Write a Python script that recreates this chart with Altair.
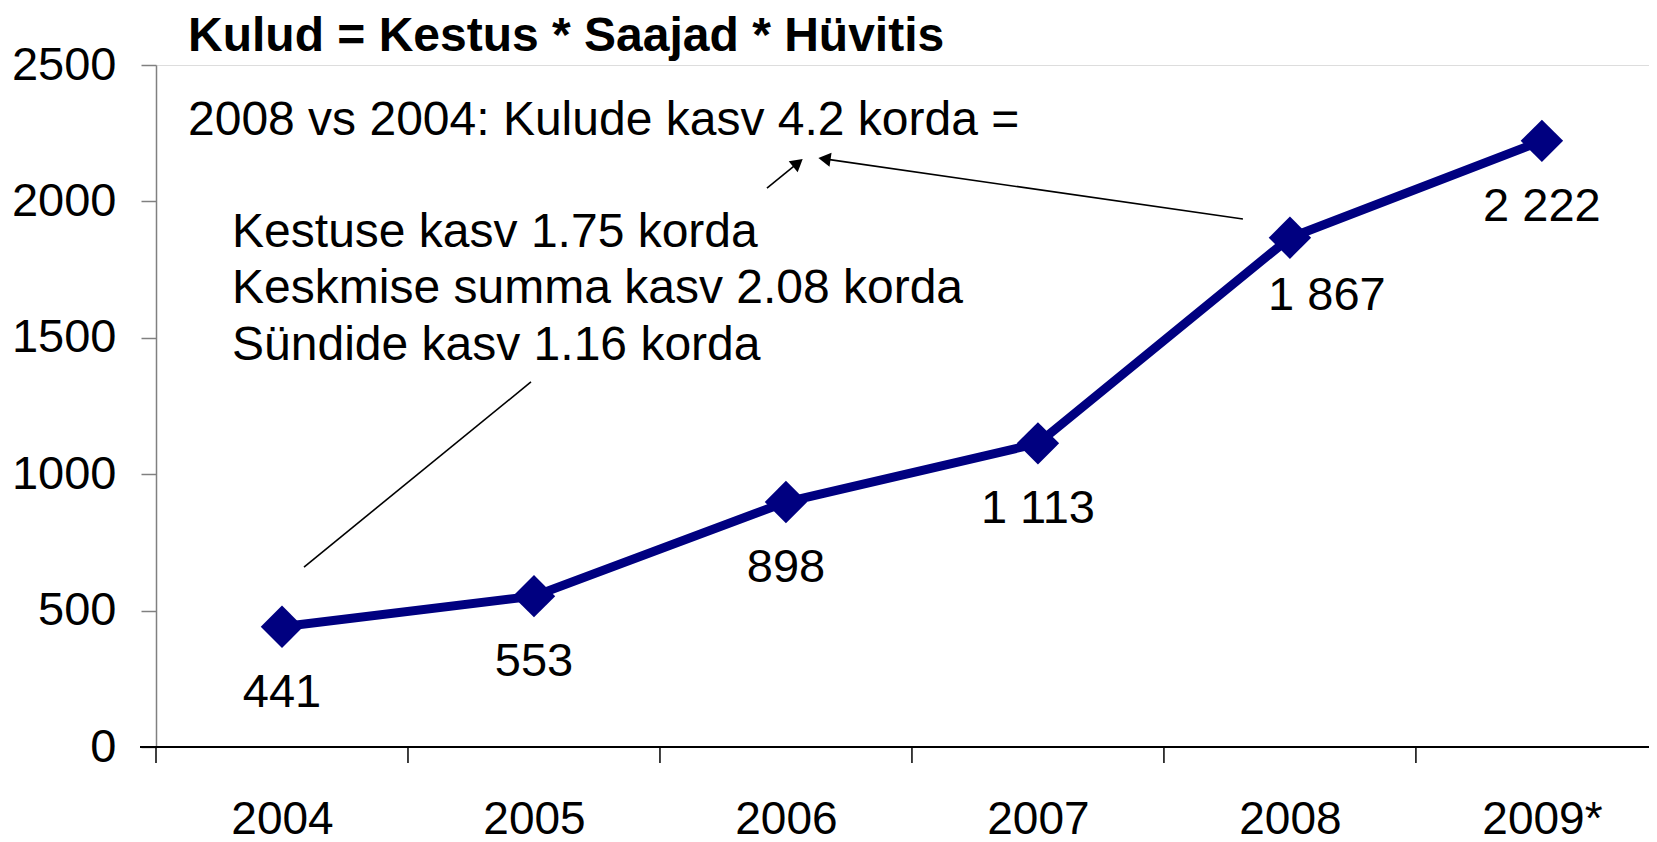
import json
import altair as alt
import pandas as pd

# ---- data ----
years = ["2004", "2005", "2006", "2007", "2008", "2009*"]
values = [441, 553, 898, 1113, 1867, 2222]
value_labels = ["441", "553", "898", "1 113", "1 867", "2 222"]
y_ticks = [0, 500, 1000, 1500, 2000, 2500]

title_text = ["Kulud = Kestus * Saajad * Hüvitis"]
ann_texts = [
    "2008 vs 2004: Kulude kasv 4.2 korda =",
    "Kestuse kasv 1.75 korda",
    "Keskmise summa kasv 2.08 korda",
    "Sündide kasv 1.16 korda",
]
# annotation anchors in data coordinates (x = category index, y = value)
title_x, title_y = [-0.373], [2550]
ann_x = [-0.373, -0.198, -0.198, -0.198]
ann_y = [2243, 1833, 1628, 1419]

# connector lines (data coordinates): start -> end
arrow_x = [3.8135, 1.9246, 0.9881]
arrow_y = [1935.5, 2049.1, 1338.0]
arrow_x2 = [2.1528, 2.0476, 0.0873]
arrow_y2 = [2155.8, 2141.5, 659.8]
head_x = [2.1528, 2.0476]
head_y = [2155.8, 2141.5]
head_angle = [278.2, 50.8]

W, H = 1493, 682
XDOM = [-0.5, 5.425]
YDOM = [0, 2500]
FONT = "Liberation Sans"
NAVY = "#000080"

df = pd.DataFrame({"idx": list(range(len(years))), "year": years,
                   "value": values, "label": value_labels})
bounds = pd.DataFrame({"b": [i - 0.5 for i in range(len(years))]})
ann_df = pd.DataFrame({"x": ann_x, "y": ann_y, "t": ann_texts})
title_df = pd.DataFrame({"x": title_x, "y": title_y, "t": title_text})
arr_df = pd.DataFrame({"x": arrow_x, "y": arrow_y, "x2": arrow_x2, "y2": arrow_y2})
head_df = pd.DataFrame({"x": head_x, "y": head_y, "a": head_angle})

xscale = alt.Scale(domain=XDOM, nice=False, zero=False)
yscale = alt.Scale(domain=YDOM, nice=False)

label_expr = json.dumps(years) + "[datum.value]"

x_enc = alt.X("idx:Q", scale=xscale, title=None,
              axis=alt.Axis(values=list(range(len(years))), labelExpr=label_expr,
                            domain=False, grid=False, ticks=True, tickSize=17,
                            tickOpacity=0, labelPadding=33, labelFontSize=46,
                            labelFont=FONT, labelColor="black", labelBaseline="top"))
y_enc = alt.Y("value:Q", scale=yscale, title=None,
              axis=alt.Axis(values=y_ticks, format="d", grid=False,
                            domainColor="#808080", tickColor="#808080",
                            tickSize=15, labelPadding=25,
                            labelFontSize=47, labelFont=FONT, labelColor="black",
                            domainWidth=1.5, tickWidth=1.5))

base = alt.Chart(df)

line = base.mark_line(color=NAVY, strokeWidth=9).encode(x=x_enc, y=y_enc)
pts = base.mark_point(shape="diamond", size=1800, filled=True, color=NAVY,
                      opacity=1).encode(x="idx:Q", y="value:Q")
labels = base.transform_filter(alt.datum.year != "2008").mark_text(
    font=FONT, fontSize=47, dy=80, baseline="alphabetic", color="black"
).encode(x="idx:Q", y="value:Q", text="label:N")
label08 = base.transform_filter(alt.datum.year == "2008").mark_text(
    font=FONT, fontSize=47, dy=72, dx=37, baseline="alphabetic", color="black"
).encode(x="idx:Q", y="value:Q", text="label:N")

xticks = alt.Chart(bounds).mark_rule(color="black", strokeWidth=1.5).encode(
    x=alt.X("b:Q", scale=xscale), y=alt.value(H), y2=alt.value(H + 16))
xaxis_line = alt.Chart(df).mark_rule(color="black", strokeWidth=2).encode(
    x=alt.value(-16), x2=alt.value(W), y=alt.value(H))

title = alt.Chart(title_df).mark_text(
    font=FONT, fontSize=48, fontWeight="bold", align="left", baseline="alphabetic",
    color="black").encode(x="x:Q", y="y:Q", text="t:N")
ann = alt.Chart(ann_df).mark_text(
    font=FONT, fontSize=48, align="left", baseline="alphabetic", color="black"
).encode(x="x:Q", y="y:Q", text="t:N")

arrows = alt.Chart(arr_df).mark_rule(color="black", strokeWidth=1.6).encode(
    x="x:Q", y="y:Q", x2="x2:Q", y2="y2:Q")
heads = alt.Chart(head_df).mark_point(shape="triangle-up", size=200, filled=True,
                                      color="black", opacity=1).encode(
    x="x:Q", y="y:Q", angle=alt.Angle("a:Q", scale=None))

chart = alt.layer(line, xticks, xaxis_line, pts, labels, label08, title, ann,
                  arrows, heads).properties(
    width=W, height=H,
    autosize=alt.AutoSizeParams(type="none"),
    padding={"left": 148, "top": 57, "right": 0, "bottom": 100},
).configure_view(stroke=None).configure(font=FONT, background="white")

chart.save("out.html", embed_options={"renderer": "svg", "actions": False})
